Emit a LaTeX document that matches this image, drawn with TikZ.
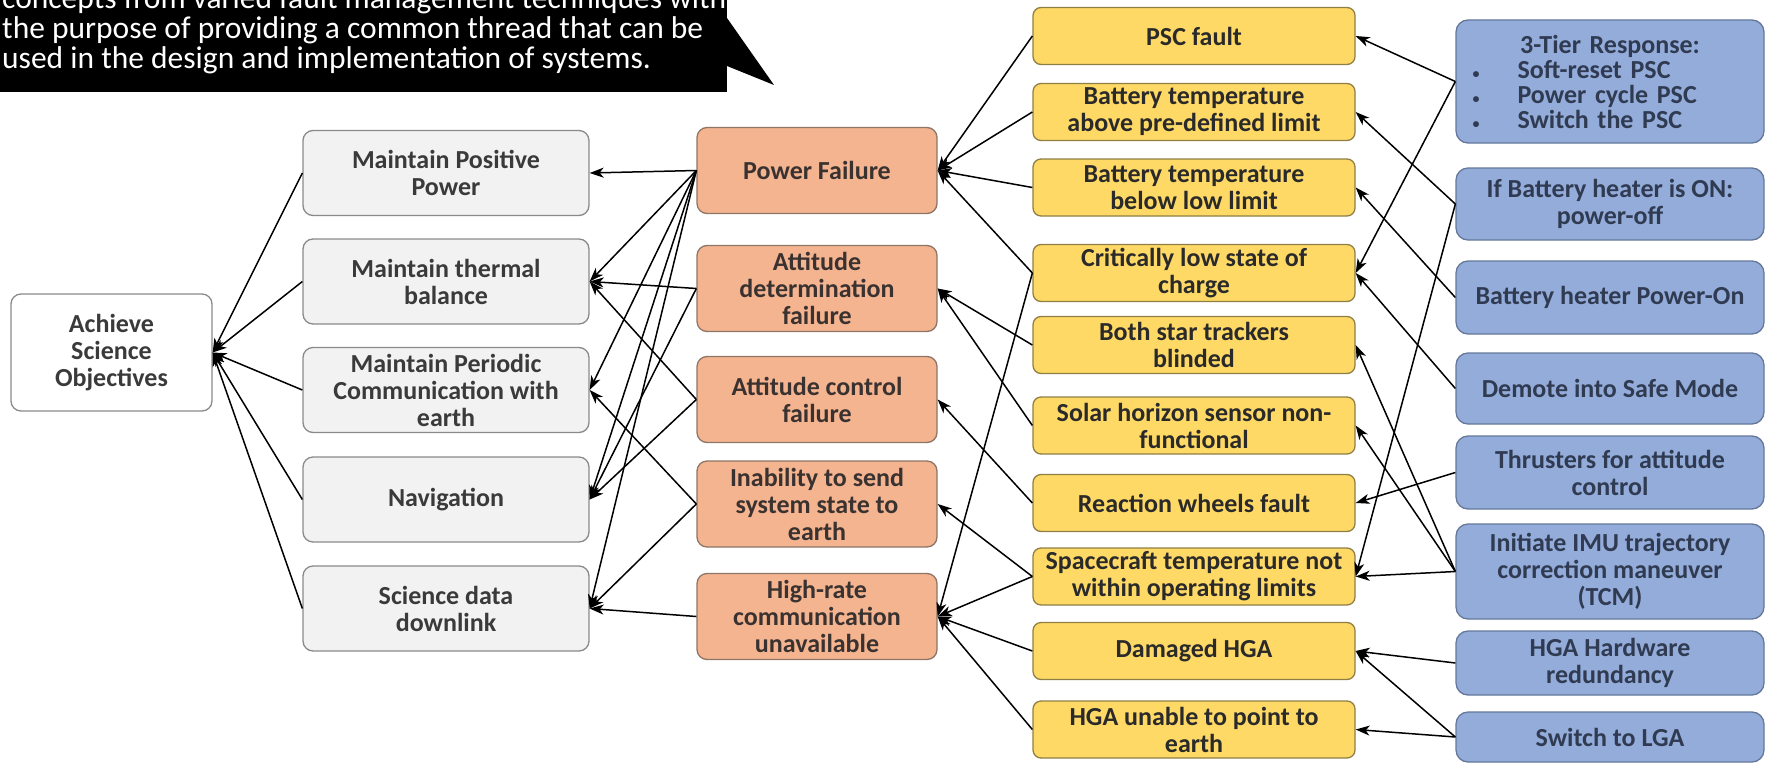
\documentclass[tikz,border=0pt]{standalone}
\usepackage{fontspec}
\setmainfont{Carlito}
\usetikzlibrary{arrows.meta}

\definecolor{greyfill}{HTML}{F2F2F2}
\definecolor{greydraw}{HTML}{8A8A8A}
\definecolor{greytext}{HTML}{3A3A3A}
\definecolor{orangefill}{HTML}{F4B490}
\definecolor{orangedraw}{HTML}{8E7565}
\definecolor{orangetext}{HTML}{3A3230}
\definecolor{yellowfill}{HTML}{FFD966}
\definecolor{yellowdraw}{HTML}{8F7F45}
\definecolor{yellowtext}{HTML}{2A2A2A}
\definecolor{bluefill}{HTML}{93ACDA}
\definecolor{bluedraw}{HTML}{65789A}
\definecolor{bluetext}{HTML}{303B52}

\begin{document}
\begin{tikzpicture}[x=1pt,y=-1pt,
  box/.style={rounded corners=10pt, line width=1.3pt, inner sep=0pt, align=center,
    font=\fontsize{26}{27}\selectfont\bfseries},
  rootbox/.style={box, fill=white, draw=greydraw, text=greytext,
    minimum width=201pt, minimum height=117pt},
  goalbox/.style={box, fill=greyfill, draw=greydraw, text=greytext,
    minimum width=286pt, minimum height=85pt},
  failbox/.style={box, fill=orangefill, draw=orangedraw, text=orangetext,
    minimum width=240pt, minimum height=86pt},
  faultbox/.style={box, rounded corners=8pt, fill=yellowfill, draw=yellowdraw, text=yellowtext,
    minimum width=322pt, minimum height=57pt},
  respbox/.style={box, rounded corners=12pt, fill=bluefill, draw=bluedraw, text=bluetext,
    minimum width=308pt},
  link/.style={-{Stealth[length=14pt,width=10pt,inset=4pt]}, line width=1.5pt, black},
  calltext/.style={anchor=base west, inner sep=0pt, text=white,
    font=\fontsize{31.5}{30}\selectfont}
]
\useasboundingbox (0,0) rectangle (1779,765);

% callout in the upper left corner
\fill[black] (0,0) rectangle (727,92);
\fill[black] (727,18) -- (774,85) -- (727,66) -- cycle;
\begin{scope}
  \clip (0,0) rectangle (727,92);
  \node[calltext] (call1) at (2,9) {concepts from varied fault management techniques with};
  \node[calltext] (call2) at (2,39) {the purpose of providing a common thread that can be};
  \node[calltext] (call3) at (2,69) {used in the design and implementation of systems.};
\end{scope}

% top objective
\node[rootbox] (goal) at (111.5,352.5) {Achieve\\Science\\Objectives};

% mission goals
\node[goalbox] (mpp) at (446,173)   {Maintain Positive\\Power};
\node[goalbox] (mtb) at (446,281.5) {Maintain thermal\\balance};
\node[goalbox] (mpc) at (446,390)   {Maintain Periodic\\Communication with\\earth};
\node[goalbox] (nav) at (446,499.5) {Navigation};
\node[goalbox] (sdd) at (446,608.5) {Science data\\downlink};

% system failures
\node[failbox] (pf) at (817,170.5) {Power Failure};
\node[failbox] (ad) at (817,288.5) {Attitude\\determination\\failure};
\node[failbox] (ac) at (817,399.5) {Attitude control\\failure};
\node[failbox] (in) at (817,504)   {Inability to send\\system state to\\earth};
\node[failbox] (hr) at (817,616.5) {High-rate\\communication\\unavailable};

% faults
\node[faultbox] (psc) at (1194,36)    {PSC fault};
\node[faultbox] (bta) at (1194,112)   {Battery temperature\\above pre-defined limit};
\node[faultbox] (btb) at (1194,187.5) {Battery temperature\\below low limit};
\node[faultbox] (cls) at (1194,273)   {Critically low state of\\charge};
\node[faultbox] (bst) at (1194,345)   {Both star trackers\\blinded};
\node[faultbox] (shs) at (1194,425.5) {Solar horizon sensor non-\\functional};
\node[faultbox] (rwf) at (1194,503)   {Reaction wheels fault};
\node[faultbox] (sct) at (1194,576.5) {Spacecraft temperature not\\within operating limits};
\node[faultbox] (dhg) at (1194,651)   {Damaged HGA};
\node[faultbox] (hup) at (1194,729.5) {HGA unable to point to\\earth};

% responses
\node[respbox, minimum height=123pt, text width=275pt, align=left, inner xsep=16.5pt,
      font=\fontsize{26}{26}\selectfont\bfseries]
  (tier) at (1610,81.5)
  {\makebox[275pt][c]{3-Tier Response:}\\[-1pt]
   \makebox[45pt][l]{\fontsize{14}{14}\selectfont\textbullet}Soft-reset PSC\\[-1pt]
   \makebox[45pt][l]{\fontsize{14}{14}\selectfont\textbullet}Power cycle PSC\\[-1pt]
   \makebox[45pt][l]{\fontsize{14}{14}\selectfont\textbullet}Switch the PSC};
\node[respbox, minimum height=72pt] (ibh) at (1610,204)   {If Battery heater is ON:\\power-off};
\node[respbox, minimum height=73pt] (bhp) at (1610,297.5) {Battery heater Power-On};
\node[respbox, minimum height=71pt] (dsm) at (1610,388.5) {Demote into Safe Mode};
\node[respbox, minimum height=73pt] (thr) at (1610,472.5) {Thrusters for attitude\\control};
\node[respbox, minimum height=95pt] (imu) at (1610,571.5) {Initiate IMU trajectory\\correction maneuver\\(TCM)};
\node[respbox, minimum height=64pt] (hgh) at (1610,663)   {HGA Hardware\\redundancy};
\node[respbox, minimum height=50pt] (lga) at (1610,737)   {Switch to LGA};

% goals feed the objective
\foreach \g in {mpp,mtb,mpc,nav,sdd}
  \draw[link] (\g.west) -- (goal.east);

% failures affect goals
\foreach \s/\t in {pf/mpp, pf/mtb, pf/mpc, pf/nav, pf/sdd,
                   ad/mtb, ad/nav, ac/mtb, ac/nav,
                   in/mpc, in/sdd, hr/sdd}
  \draw[link] (\s.west) -- (\t.east);

% faults cause failures
\foreach \s/\t in {psc/pf, bta/pf, btb/pf, cls/pf, cls/hr,
                   bst/ad, shs/ad, rwf/ac, sct/in, sct/hr,
                   dhg/hr, hup/hr}
  \draw[link] (\s.west) -- (\t.east);

% responses address faults
\foreach \s/\t in {tier/psc, tier/cls, ibh/bta, ibh/sct, bhp/btb,
                   dsm/cls, thr/rwf, imu/bst, imu/shs, imu/sct,
                   hgh/dhg, lga/dhg, lga/hup}
  \draw[link] (\s.west) -- (\t.east);
\end{tikzpicture}
\end{document}
